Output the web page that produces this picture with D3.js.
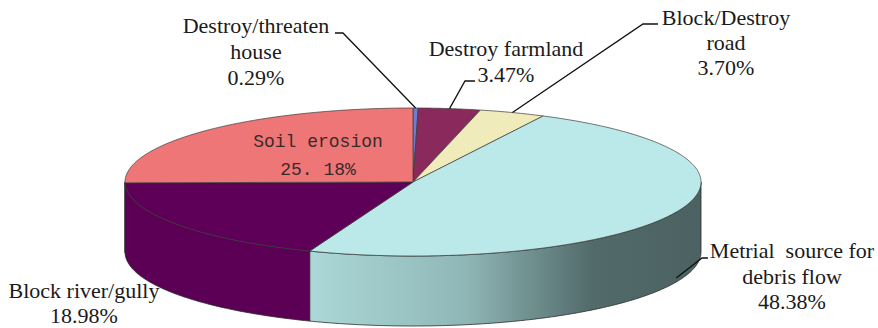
<!DOCTYPE html>
<html>
<head>
<meta charset="utf-8">
<script src="https://cdn.jsdelivr.net/npm/d3@7"></script>
<style>
  html, body { margin: 0; padding: 0; background: #fff; }
  svg { display: block; }
  .lbl { font-family: 'Liberation Serif', 'DejaVu Serif', serif; font-size: 22px; fill: #1a1a1a; }
  .lbl.mono { font-family: 'Liberation Mono', 'DejaVu Sans Mono', monospace; font-size: 18px; fill: #3a2a2a; }
</style>
</head>
<body>
<svg id="chart" width="878" height="328"></svg>
<script>
const categories = [
  'Destroy/threaten house',
  'Destroy farmland',
  'Block/Destroy road',
  'Metrial source for debris flow',
  'Block river/gully',
  'Soil erosion'
]
const shares = [0.29, 3.47, 3.70, 48.38, 18.98, 25.18]
const labelLines = [
  ['Destroy/threaten', 'house', '0.29%'],
  ['Destroy farmland', '3.47%'],
  ['Block/Destroy', 'road', '3.70%'],
  ['Metrial  source for', 'debris flow', '48.38%'],
  ['Block river/gully', '18.98%'],
  ['Soil erosion', '25. 18%']
]

const topColors = ['#6b7fd2', '#8a2a5c', '#efebbb', '#bbe9e9', '#5e0058', '#ee7676']
const sideColors = ['#5a6cb4', '#6e1f48', '#cfcb9c', 'url(#sideGrad)', '#5c0056', '#c85f5f']

const cx = 413
const cy = 182
const rx = 288
const ry = 74
const depth = 70

// label placement: text anchor point, baselines, and leader elbow points
const labelLayout = [
  { x: 256, y: 33, dy: 26, leader: [[343, 33], [335, 33]] },
  { x: 506, y: 56, dy: 26, leader: [[465, 81], [475, 81]] },
  { x: 726, y: 25, dy: 25, leader: [[643, 24], [658, 24]] },
  { x: 792, y: 258, dy: 25.5, leader: [[702, 258], [708, 258]], onSide: true },
  { x: 84, y: 298, dy: 25 },
  { x: 318, y: 147, dy: 28, mono: true }
]

const svg = d3.select('#chart')

const grad = svg.append('defs').append('linearGradient')
  .attr('id', 'sideGrad')
  .attr('gradientUnits', 'userSpaceOnUse')
  .attr('x1', 310).attr('y1', 0).attr('x2', 702).attr('y2', 0)
grad.selectAll('stop')
  .data([[0, '#acd8d8'], [0.4, '#8fb6b6'], [0.72, '#526a6a'], [1, '#4c6262']])
  .join('stop')
  .attr('offset', (d) => d[0])
  .attr('stop-color', (d) => d[1])

const pie = d3.pie().sort(null).startAngle(0).endAngle(2 * Math.PI)
const arcs = pie(shares)

const pt = (a, dy = 0) => [cx + rx * Math.sin(a), cy - ry * Math.cos(a) + dy]

const rim = (a0, a1, dy) => {
  const n = Math.max(2, Math.ceil(Math.abs(a1 - a0) / 0.01))
  return d3.range(n + 1).map((i) => pt(a0 + (a1 - a0) * i / n, dy))
}

const line = d3.line()

const topPath = (d) => line([[cx, cy], ...rim(d.startAngle, d.endAngle, 0)]) + 'Z'

const sidePath = (d) => {
  const a0 = Math.max(d.startAngle, Math.PI / 2)
  const a1 = Math.min(d.endAngle, 3 * Math.PI / 2)
  if (a1 <= a0) return null
  return line([...rim(a0, a1, 0), ...rim(a1, a0, depth)]) + 'Z'
}

svg.append('g')
  .selectAll('path')
  .data(arcs.filter((d) => sidePath(d)))
  .join('path')
  .attr('d', sidePath)
  .attr('fill', (d) => sideColors[d.index])
  .attr('stroke', '#2a2a2a')
  .attr('stroke-width', 0.8)
  .attr('stroke-linejoin', 'round')

svg.append('g')
  .selectAll('path')
  .data(arcs)
  .join('path')
  .attr('d', topPath)
  .attr('fill', (d) => topColors[d.index])
  .attr('stroke', '#3a3a3a')
  .attr('stroke-width', 0.7)
  .attr('stroke-linejoin', 'round')

const leaders = svg.append('g')
arcs.forEach((d) => {
  const lay = labelLayout[d.index]
  if (!lay.leader) return
  const mid = (d.startAngle + d.endAngle) / 2
  const start = pt(mid, lay.onSide ? depth - 4 : 0)
  leaders.append('path')
    .attr('d', line([start, ...lay.leader]))
    .attr('fill', 'none')
    .attr('stroke', '#111')
    .attr('stroke-width', 1.3)
})

const labels = svg.append('g')
arcs.forEach((d) => {
  const lay = labelLayout[d.index]
  const text = labels.append('text')
    .attr('class', lay.mono ? 'lbl mono' : 'lbl')
    .attr('text-anchor', 'middle')
    .attr('xml:space', 'preserve')
  labelLines[d.index].forEach((s, i) => {
    text.append('tspan')
      .attr('x', lay.x)
      .attr('y', lay.y + i * lay.dy)
      .text(s)
  })
})
</script>
</body>
</html>
